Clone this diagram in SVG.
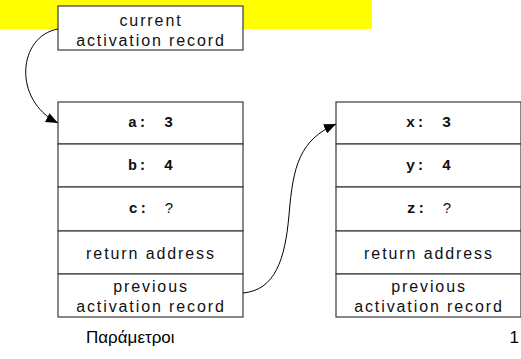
<svg xmlns="http://www.w3.org/2000/svg" width="521" height="359" viewBox="0 0 521 359">
<defs>
<style>
.box{fill:#fff;stroke:#3a3a3a;stroke-width:1.2}
.t{font-family:"Liberation Sans",Arial,sans-serif;font-size:16px;letter-spacing:1.9px;fill:#111;text-anchor:middle}
.m{font-family:"Liberation Mono","Courier New",monospace;font-weight:bold;font-size:15px;letter-spacing:1px;word-spacing:6px;fill:#111;text-anchor:middle}
.q{font-family:"Liberation Sans",Arial,sans-serif;font-weight:normal;letter-spacing:0}
.f{font-family:"Liberation Sans",Arial,sans-serif;font-size:17px;fill:#000}
.c{fill:none;stroke:#000;stroke-width:1}
</style>
<marker id="ah" viewBox="0 0 12 10" refX="12" refY="5" markerWidth="12" markerHeight="10" markerUnits="userSpaceOnUse" orient="auto">
<path d="M0,0 L12,5 L0,10 Z" fill="#000"/>
</marker>
</defs>
<rect x="0" y="0" width="372" height="29" fill="#ffff00"/>
<g id="current">
<rect class="box" x="58" y="6" width="185" height="44"/>
<text class="t" x="151" y="26">current</text>
<text class="t" x="151" y="46">activation record</text>
</g>
<g id="frame1">
<g id="a"><rect class="box" x="58" y="102" width="185" height="42"/><text class="m" x="151" y="127">a: 3</text></g>
<g id="b"><rect class="box" x="58" y="144" width="185" height="43"/><text class="m" x="151" y="170">b: 4</text></g>
<g id="c"><rect class="box" x="58" y="187" width="185" height="44"/><text class="m" x="151" y="213">c: <tspan class="q">?</tspan></text></g>
<g id="ret1"><rect class="box" x="58" y="231" width="185" height="43"/><text class="t" x="151" y="259">return address</text></g>
<g id="prev1"><rect class="box" x="58" y="274" width="185" height="43"/><text class="t" x="151" y="292">previous</text><text class="t" x="151" y="312">activation record</text></g>
</g>
<g id="frame2">
<g id="x"><rect class="box" x="336" y="102" width="185" height="42"/><text class="m" x="429" y="127">x: 3</text></g>
<g id="y"><rect class="box" x="336" y="144" width="185" height="43"/><text class="m" x="429" y="170">y: 4</text></g>
<g id="z"><rect class="box" x="336" y="187" width="185" height="44"/><text class="m" x="429" y="213">z: <tspan class="q">?</tspan></text></g>
<g id="ret2"><rect class="box" x="336" y="231" width="185" height="43"/><text class="t" x="429" y="259">return address</text></g>
<g id="prev2"><rect class="box" x="336" y="274" width="185" height="43"/><text class="t" x="429" y="292">previous</text><text class="t" x="429" y="312">activation record</text></g>
</g>
<g id="connectors">
<path class="c" d="M58,29 C18,36 12,100 58,123" marker-end="url(#ah)"/>
<path class="c" d="M243,293 C275,290 285,260 289,215 C293,165 300,140 336,124" marker-end="url(#ah)"/>
</g>
<text class="f" x="86" y="343">Παράμετροι</text>
<text class="f" x="519" y="343" text-anchor="end">1</text>
</svg>
